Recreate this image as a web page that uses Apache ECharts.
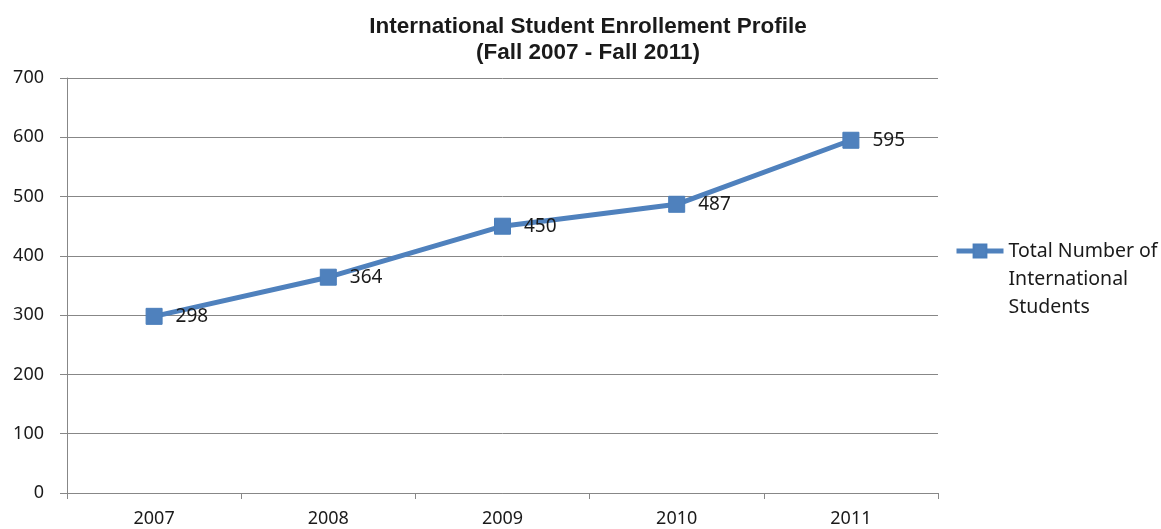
<!DOCTYPE html>
<html><head><meta charset="utf-8">
<script src="https://cdn.jsdelivr.net/npm/echarts@6/dist/echarts.min.js"></script>
<style>html,body{margin:0;padding:0;background:#fff}#c{width:1161px;height:529px}</style>
</head><body><div id="c"></div>
<script>
const categories = ['2007','2008','2009','2010','2011'];
const values = [298, 364, 450, 487, 595];
const seriesName = 'Total Number of\nInternational\nStudents';
const titleLines = 'International Student Enrollement Profile\n(Fall 2007 - Fall 2011)';

const chart = echarts.init(document.getElementById('c'));
chart.setOption({
  animation: false,
  title: {
    text: titleLines,
    left: 588, top: 14, textAlign: 'center', padding: 0,
    textStyle: {fontFamily: 'Liberation Sans, Arial', fontWeight: 'bold', fontSize: 22.5, lineHeight: 26, color: '#1a1a1a'}
  },
  grid: {left: 67, right: 223, top: 78, bottom: 36},
  legend: {
    left: 954, top: 181, padding: 0,
    itemWidth: 47, itemHeight: 16, itemGap: 0,
    formatter: function (name) { return '\n\n' + name; },
    lineStyle: {width: 5},
    textStyle: {fontFamily: 'Noto Sans', fontSize: 19.5, lineHeight: 28, color: '#1a1a1a'}
  },
  xAxis: {
    type: 'category', data: categories, boundaryGap: true,
    axisLine: {lineStyle: {color: '#878787', width: 1}},
    axisTick: {show: true, alignWithLabel: false, length: 6, inside: false, lineStyle: {color: '#878787'}},
    axisLabel: {fontFamily: 'Noto Sans', fontSize: 18, color: '#1a1a1a', margin: 17}
  },
  yAxis: {
    type: 'value', min: 0, max: 700, interval: 100,
    axisLine: {show: true, lineStyle: {color: '#878787', width: 1}},
    axisTick: {show: true, length: 7, lineStyle: {color: '#878787'}},
    splitLine: {lineStyle: {color: '#878787', width: 1}},
    axisLabel: {fontFamily: 'Noto Sans', fontSize: 18, color: '#1a1a1a', margin: 23}
  },
  series: [{
    name: seriesName, type: 'line', data: values,
    symbol: 'rect', symbolSize: 16,
    lineStyle: {color: '#4F81BD', width: 5},
    itemStyle: {color: '#4F81BD', borderColor: '#4A7EBB', borderWidth: 1},
    label: {show: true, position: 'right', distance: 13, fontFamily: 'Noto Sans', fontSize: 19, color: '#1a1a1a'}
  }]
});
</script></body></html>
